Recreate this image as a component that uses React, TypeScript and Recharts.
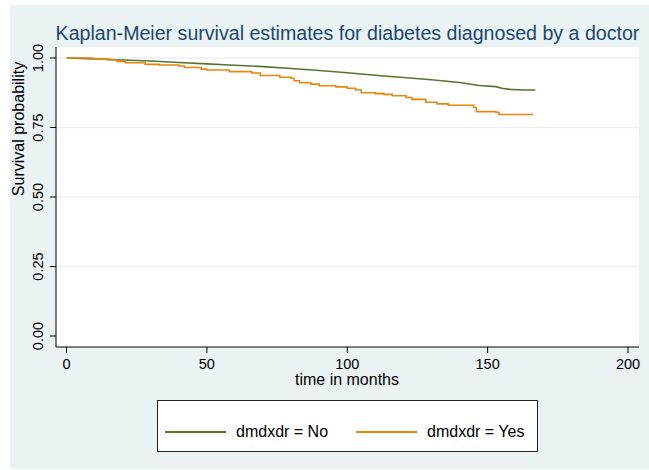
import React from 'react';
import { LineChart, Line, XAxis, YAxis, CartesianGrid, Legend, Label } from 'recharts';

const TITLE = 'Kaplan-Meier survival estimates for diabetes diagnosed by a doctor';
const X_TITLE = 'time in months';
const Y_TITLE = 'Survival probability';
const SERIES_NAMES = ['dmdxdr = No', 'dmdxdr = Yes'];
const X_TICKS = [0, 50, 100, 150, 200];
const Y_TICKS = [0, 0.25, 0.5, 0.75, 1];

const noTimes = [0, 10, 20, 30, 40, 50, 58, 70, 80, 90, 100, 112, 120, 130, 140, 147, 153, 155, 158, 163, 167];
const noSurv = [1.0, 0.997, 0.993, 0.989, 0.984, 0.979, 0.975, 0.969, 0.962, 0.955, 0.947, 0.936, 0.93, 0.922, 0.912, 0.901, 0.897, 0.891, 0.887, 0.885, 0.885];

const yesTimes = [0, 9, 10, 15, 18, 21, 28, 33, 40, 42, 48, 50, 58, 66, 69, 76, 80, 81, 83, 87, 90, 96, 100, 103, 105, 110, 113, 116, 121, 123, 128, 132, 136, 145, 146, 153, 154, 166];
const yesSurv = [1.0, 0.998, 0.996, 0.993, 0.988, 0.983, 0.977, 0.975, 0.971, 0.966, 0.96, 0.957, 0.951, 0.946, 0.937, 0.931, 0.927, 0.918, 0.911, 0.906, 0.9, 0.896, 0.891, 0.885, 0.875, 0.872, 0.869, 0.864, 0.858, 0.851, 0.841, 0.835, 0.83, 0.822, 0.807, 0.805, 0.797, 0.795];

const noData = noTimes.map((t, i) => ({ t, s: noSurv[i] }));
const yesData = yesTimes.map((t, i) => ({ t, s: yesSurv[i] }));

const FONT = '"Liberation Sans", Arial, Helvetica, sans-serif';
const BG = '#EAF2F3';
const GREEN = '#55752F';
const ORANGE = '#E8850C';
const TITLE_COLOR = '#1A476F';

const YTick = (props: any) => {
  const { x, y, payload } = props;
  const bx = x - 5;
  return (
    <text x={bx} y={y} transform={`rotate(-90 ${bx} ${y})`} textAnchor="middle" fontSize={14.5} fill="#000" fontFamily={FONT}>
      {Number(payload.value).toFixed(2)}
    </text>
  );
};

const XTick = (props: any) => {
  const { x, y, payload } = props;
  return (
    <text x={x} y={y + 14} textAnchor="middle" fontSize={14.5} fill="#000" fontFamily={FONT}>
      {payload.value}
    </text>
  );
};

const LegendContent = (props: any) => {
  const payload = props.payload || [];
  return (
    <div style={{ width: 381, height: 52, boxSizing: 'border-box', border: '1px solid #222', background: '#fff', position: 'relative', fontFamily: FONT, fontSize: 16, color: '#000' }}>
      {payload.map((p: any, i: number) => (
        <div key={i} style={{ position: 'absolute', left: i === 0 ? 7 : 198, top: 21, display: 'flex', alignItems: 'center', height: 20 }}>
          <div style={{ width: 61, height: 0, borderTop: `2px solid ${p.color}` }} />
          <span style={{ marginLeft: 10 }}>{p.value}</span>
        </div>
      ))}
    </div>
  );
};

export default function App() {
  return (
    <div style={{ position: 'absolute', left: 0, top: 0, width: 649, height: 470, background: '#fff' }}>
      <div style={{ position: 'absolute', left: 10, top: 5, width: 639, height: 464, background: BG }} />
      <div style={{ position: 'absolute', left: 0, top: 0, width: 649, height: 470 }}>
        <div style={{ position: 'absolute', left: 40, top: 20, width: 615, textAlign: 'center', fontFamily: FONT, fontSize: 19.6, color: TITLE_COLOR, whiteSpace: 'nowrap', lineHeight: '26px' }}>
          {TITLE}
        </div>
        <LineChart width={649} height={470} margin={{ top: 47, right: 10, left: 10, bottom: 26 }} style={{ position: 'absolute', left: 0, top: 0 }}>
          <CartesianGrid fill="#fff" stroke={BG} strokeWidth={1.5} vertical={false} horizontalValues={[0.25, 0.5, 0.75, 1]} />
          <XAxis
            dataKey="t"
            type="number"
            domain={[0, 200]}
            ticks={X_TICKS}
            padding={{ left: 10.5, right: 11 }}
            height={45}
            tickSize={6}
            stroke="#000"
            tick={<XTick />}
            allowDataOverflow
          >
            <Label
              content={(p: any) => {
                const vb = p.viewBox || {};
                return (
                  <text x={347} y={vb.y + 38} textAnchor="middle" fontSize={16} fill="#000" fontFamily={FONT}>
                    {X_TITLE}
                  </text>
                );
              }}
            />
          </XAxis>
          <YAxis
            dataKey="s"
            type="number"
            domain={[0, 1]}
            ticks={Y_TICKS}
            padding={{ top: 11, bottom: 11 }}
            width={46}
            tickSize={6}
            stroke="#000"
            tick={<YTick />}
          >
            <Label
              content={() => (
                <text x={24} y={129} transform="rotate(-90 24 129)" textAnchor="middle" fontSize={16} fill="#000" fontFamily={FONT}>
                  {Y_TITLE}
                </text>
              )}
            />
          </YAxis>
          <Line data={noData} dataKey="s" name={SERIES_NAMES[0]} type="linear" stroke={GREEN} strokeWidth={1.6} dot={false} isAnimationActive={false} />
          <Line data={yesData} dataKey="s" name={SERIES_NAMES[1]} type="stepAfter" stroke={ORANGE} strokeWidth={1.6} dot={false} isAnimationActive={false} />
          <Legend
            verticalAlign="bottom"
            content={<LegendContent />}
            wrapperStyle={{ left: 157, top: 400, bottom: 'auto', width: 381, height: 52 }}
          />
        </LineChart>
      </div>
    </div>
  );
}
